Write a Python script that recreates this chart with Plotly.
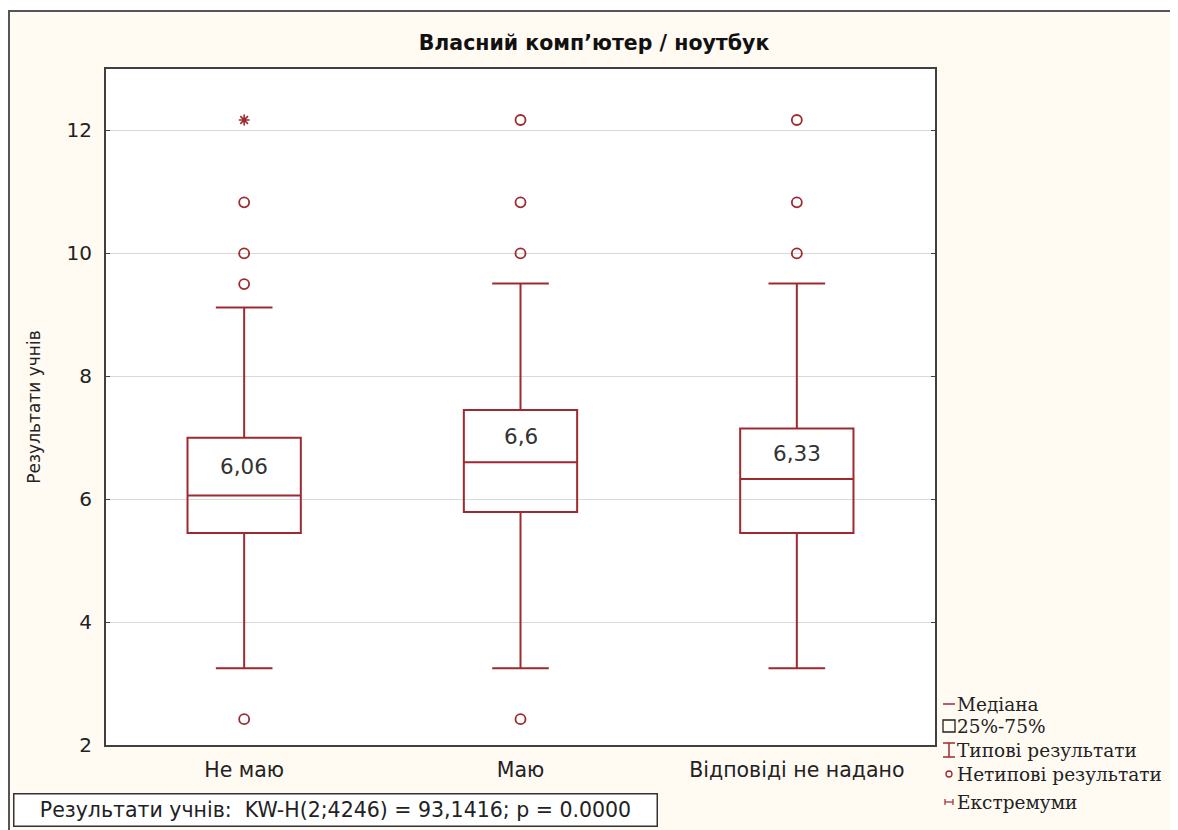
import plotly.graph_objects as go

categories = ["Не маю", "Маю", "Відповіді не надано"]
q1 = [5.45, 5.79, 5.45]
median = [6.06, 6.6, 6.33]
q3 = [7.0, 7.45, 7.15]
lower_whisker = [3.25, 3.25, 3.25]
upper_whisker = [9.12, 9.51, 9.51]
median_labels = ["6,06", "6,6", "6,33"]
outliers = [[9.5, 10.0, 10.83, 2.42], [10.0, 10.83, 12.17, 2.42], [10.0, 10.83, 12.17]]
extremes = [[12.17], [], []]
legend_labels = ["Медіана", "25%-75%", "Типові результати", "Нетипові результати", "Екстремуми"]
stat_text = "Результати учнів:  KW-H(2;4246) = 93,1416; p = 0.0000"
title_text = "Власний комп’ютер / ноутбук"
y_title = "Результати учнів"

RED = "#9e2a30"
AX = "#404040"
SANS = "DejaVu Sans, Liberation Sans, Arial"
SERIF = "DejaVu Serif, Liberation Serif, Times New Roman"
OFF = 8  # page body margin
W, H = 1178 - OFF, 830 - OFF
# plot area in reference pixel coordinates
L, R, T, B = 106, 935, 69, 745

def px(x):
    return (x - L) / (R - L)

def py(y):
    return (B - y) / (B - T)

fig = go.Figure()
for i, c in enumerate(categories):
    fig.add_trace(go.Box(
        x=[i], q1=[q1[i]], median=[median[i]], q3=[q3[i]],
        lowerfence=[lower_whisker[i]], upperfence=[upper_whisker[i]],
        width=0.41, whiskerwidth=0.5, boxpoints=False,
        line=dict(color=RED, width=2), fillcolor="rgba(255,255,255,0)",
        showlegend=False, hoverinfo="skip"))
    if outliers[i]:
        fig.add_trace(go.Scatter(
            x=[i] * len(outliers[i]), y=outliers[i], mode="markers",
            marker=dict(symbol="circle-open", size=10, color=RED, line=dict(width=1.8, color=RED)),
            showlegend=False, hoverinfo="skip"))
    if extremes[i]:
        fig.add_trace(go.Scatter(
            x=[i] * len(extremes[i]), y=extremes[i], mode="markers",
            marker=dict(symbol="asterisk-open", size=9, color=RED, line=dict(width=1.6, color=RED)),
            showlegend=False, hoverinfo="skip"))

annotations = []
for i, lab in enumerate(median_labels):
    annotations.append(dict(
        x=i, y=(median[i] + q3[i]) / 2, xref="x", yref="y", text=lab, showarrow=False,
        font=dict(family=SANS, size=21.5, color="#333333")))

annotations.append(dict(
    x=px(335), y=py(809.5), xref="paper", yref="paper", text=stat_text, showarrow=False,
    xanchor="center", yanchor="middle", width=636, height=25, align="center",
    font=dict(family=SANS, size=20.5, color="#222222"),
    bgcolor="white", bordercolor="#333333", borderwidth=1.5, borderpad=3))

rows = [704, 726, 750, 774, 802]
for lab, ry in zip(legend_labels, rows):
    annotations.append(dict(
        x=px(955), y=py(ry), xref="paper", yref="paper", text=lab, showarrow=False,
        xanchor="left", yanchor="middle",
        font=dict(family=SERIF, size=18.5, color="#222222")))

shapes = []
# outer frame pieces
shapes.append(dict(type="rect", xref="paper", yref="paper", x0=px(-20), x1=px(W + 40), y0=py(-20), y1=py(11),
                   fillcolor="white", line=dict(width=0), layer="below"))
shapes.append(dict(type="rect", xref="paper", yref="paper", x0=px(-20), x1=px(8), y0=py(-20), y1=py(H + 40),
                   fillcolor="white", line=dict(width=0), layer="below"))
shapes.append(dict(type="rect", xref="paper", yref="paper", x0=px(9), x1=px(W + 40), y0=py(11), y1=py(H + 40),
                   fillcolor="rgba(0,0,0,0)", line=dict(color="#555555", width=2)))
for tx in [124, 240, 352, 465, 578, 690, 806, 919, 1035, 1148]:
    shapes.append(dict(type="line", xref="paper", yref="paper", x0=px(tx), x1=px(tx), y0=py(1), y1=py(8),
                       line=dict(color="#cccccc", width=1)))
# legend symbols
cx = 949
shapes.append(dict(type="line", xref="paper", yref="paper", x0=px(943), x1=px(955), y0=py(rows[0]), y1=py(rows[0]),
                   line=dict(color=RED, width=1.5)))
shapes.append(dict(type="rect", xref="paper", yref="paper", x0=px(943), x1=px(955), y0=py(rows[1] - 6), y1=py(rows[1] + 6),
                   line=dict(color="#222222", width=1.3)))
shapes.append(dict(type="line", xref="paper", yref="paper", x0=px(cx), x1=px(cx), y0=py(rows[2] - 7), y1=py(rows[2] + 7),
                   line=dict(color=RED, width=1.5)))
for dy in (-7, 7):
    shapes.append(dict(type="line", xref="paper", yref="paper", x0=px(943), x1=px(955), y0=py(rows[2] + dy), y1=py(rows[2] + dy),
                       line=dict(color=RED, width=1.5)))
shapes.append(dict(type="circle", xref="paper", yref="paper", x0=px(cx - 3), x1=px(cx + 3), y0=py(rows[3] - 3), y1=py(rows[3] + 3),
                   line=dict(color=RED, width=1.3)))
shapes.append(dict(type="line", xref="paper", yref="paper", x0=px(cx - 4), x1=px(cx + 4), y0=py(rows[4]), y1=py(rows[4]),
                   line=dict(color=RED, width=1.2)))
for dx in (-4, 4):
    shapes.append(dict(type="line", xref="paper", yref="paper", x0=px(cx + dx), x1=px(cx + dx), y0=py(rows[4] - 3), y1=py(rows[4] + 3),
                       line=dict(color=RED, width=1.2)))

fig.update_layout(
    width=W, height=H,
    margin=dict(l=L - OFF, r=1178 - R, t=T - OFF, b=830 - B, autoexpand=False),
    paper_bgcolor="#fffaf2", plot_bgcolor="white",
    title=dict(text="<b>" + title_text + "</b>", x=(594 - OFF) / W, xref="container", xanchor="center",
               y=1 - (43 - OFF) / H, yref="container", yanchor="middle",
               font=dict(family=SANS, size=20.5, color="#111111")),
    annotations=annotations, shapes=shapes, showlegend=False,
)
fig.update_xaxes(
    range=[-0.5, 2.5], tickvals=[0, 1, 2], ticktext=categories, showgrid=False, zeroline=False,
    showline=True, linecolor=AX, linewidth=2, mirror=True, ticks="",
    tickfont=dict(family=SANS, size=20.5, color="#222222"), ticklabelstandoff=5)
fig.update_yaxes(
    range=[2, 13], tick0=2, dtick=2, showgrid=True, gridcolor="#d9d9d9", gridwidth=1, zeroline=False,
    showline=True, linecolor=AX, linewidth=2, mirror="ticks", ticks="inside", ticklen=4, tickcolor=AX,
    tickfont=dict(family=SANS, size=20, color="#222222"), ticklabelstandoff=8,
    title=dict(text=y_title, font=dict(family=SANS, size=17, color="#222222"), standoff=22))

fig.write_html("out.html")
